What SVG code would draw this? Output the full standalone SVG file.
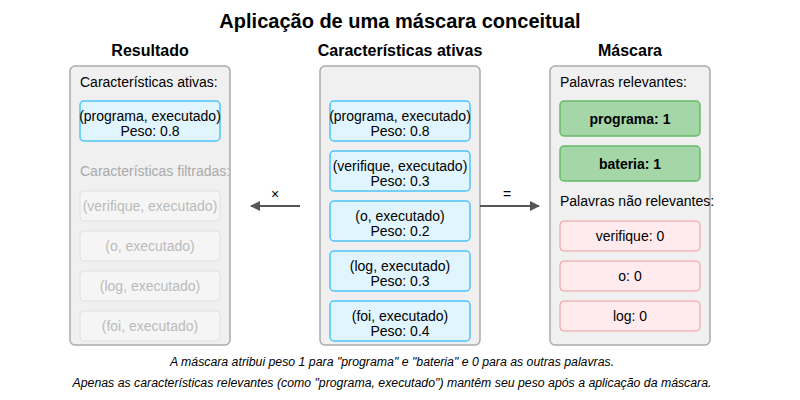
<svg xmlns="http://www.w3.org/2000/svg" width="800" height="400" viewBox="0 0 800 400">
<style>
text{font-family:"Liberation Sans",Arial,sans-serif;}
.title{font-size:20px;font-weight:bold;fill:#000;text-anchor:middle;}
.head{font-size:16px;font-weight:bold;fill:#000;text-anchor:middle;}
.panel{fill:#f0f0f0;stroke:#aaaaaa;stroke-width:1.5;}
.lbl{font-size:14px;fill:#000;}
.lblg{font-size:14px;fill:#aaaaaa;}
.blue{fill:#e1f5fe;stroke:#4fc3f7;stroke-width:1.5;}
.grey{fill:#f5f5f5;stroke:#e0e0e0;stroke-width:1;}
.green{fill:#a5d6a7;stroke:#66bb6a;stroke-width:1.5;}
.pink{fill:#ffebee;stroke:#ef9a9a;stroke-width:1;}
.bt{font-size:14px;fill:#000;text-anchor:middle;}
.gt{font-size:14px;fill:#bbbbbb;text-anchor:middle;}
.bold{font-size:14px;font-weight:bold;fill:#000;text-anchor:middle;}
.op{font-size:14px;fill:#000;text-anchor:middle;}
.foot{font-size:12.3px;font-style:italic;fill:#000;text-anchor:middle;}
.conn{stroke:#555;stroke-width:2;fill:none;}
</style>
<defs>
<marker id="ah" viewBox="0 0 10 10" refX="9" refY="5" markerWidth="5" markerHeight="5" orient="auto"><path d="M0,0 L10,5 L0,10 z" fill="#555"/></marker>
</defs>
<text class="title" x="400" y="28">Aplicação de uma máscara conceitual</text>
<text class="head" x="150" y="56">Resultado</text>
<text class="head" x="400" y="56">Características ativas</text>
<text class="head" x="630" y="56">Máscara</text>

<g id="resultado">
<rect class="panel" x="70" y="66" width="160" height="279" rx="5"/>
<text class="lbl" x="80" y="87">Características ativas:</text>
<g id="res-programa"><rect class="blue" x="80" y="101" width="140" height="40" rx="4"/>
<text class="bt" x="150" y="121">(programa, executado)</text><text class="bt" x="150" y="136">Peso: 0.8</text></g>
<text class="lblg" x="80" y="176">Características filtradas:</text>
<g id="res-verifique"><rect class="grey" x="80" y="191" width="140" height="30" rx="4"/><text class="gt" x="150" y="211">(verifique, executado)</text></g>
<g id="res-o"><rect class="grey" x="80" y="231" width="140" height="30" rx="4"/><text class="gt" x="150" y="251">(o, executado)</text></g>
<g id="res-log"><rect class="grey" x="80" y="271" width="140" height="30" rx="4"/><text class="gt" x="150" y="291">(log, executado)</text></g>
<g id="res-foi"><rect class="grey" x="80" y="311" width="140" height="30" rx="4"/><text class="gt" x="150" y="331">(foi, executado)</text></g>
</g>

<g id="ativas">
<rect class="panel" x="320" y="66" width="160" height="279" rx="5"/>
<g id="at-programa"><rect class="blue" x="330" y="101" width="140" height="40" rx="4"/>
<text class="bt" x="400" y="121">(programa, executado)</text><text class="bt" x="400" y="136">Peso: 0.8</text></g>
<g id="at-verifique"><rect class="blue" x="330" y="151" width="140" height="40" rx="4"/>
<text class="bt" x="400" y="171">(verifique, executado)</text><text class="bt" x="400" y="186">Peso: 0.3</text></g>
<g id="at-o"><rect class="blue" x="330" y="201" width="140" height="40" rx="4"/>
<text class="bt" x="400" y="221">(o, executado)</text><text class="bt" x="400" y="236">Peso: 0.2</text></g>
<g id="at-log"><rect class="blue" x="330" y="251" width="140" height="40" rx="4"/>
<text class="bt" x="400" y="271">(log, executado)</text><text class="bt" x="400" y="286">Peso: 0.3</text></g>
<g id="at-foi"><rect class="blue" x="330" y="301" width="140" height="40" rx="4"/>
<text class="bt" x="400" y="321">(foi, executado)</text><text class="bt" x="400" y="336">Peso: 0.4</text></g>
</g>

<g id="mascara">
<rect class="panel" x="550" y="66" width="160" height="279" rx="5"/>
<text class="lbl" x="560" y="87">Palavras relevantes:</text>
<g id="m-programa"><rect class="green" x="560" y="101" width="140" height="35" rx="4"/><text class="bold" x="630" y="124">programa: 1</text></g>
<g id="m-bateria"><rect class="green" x="560" y="146" width="140" height="35" rx="4"/><text class="bold" x="630" y="169">bateria: 1</text></g>
<text class="lbl" x="560" y="206">Palavras não relevantes:</text>
<g id="m-verifique"><rect class="pink" x="560" y="221" width="140" height="30" rx="4"/><text class="bt" x="630" y="241">verifique: 0</text></g>
<g id="m-o"><rect class="pink" x="560" y="261" width="140" height="30" rx="4"/><text class="bt" x="630" y="281">o: 0</text></g>
<g id="m-log"><rect class="pink" x="560" y="301" width="140" height="30" rx="4"/><text class="bt" x="630" y="321">log: 0</text></g>
</g>

<g id="connectors">
<line class="conn" x1="300" y1="206" x2="251" y2="206" marker-end="url(#ah)"/>
<text class="op" x="275" y="199">×</text>
<line class="conn" x1="480" y1="206" x2="539" y2="206" marker-end="url(#ah)"/>
<text class="op" x="507" y="199">=</text>
</g>

<text class="foot" x="392" y="366">A máscara atribui peso 1 para "programa" e "bateria" e 0 para as outras palavras.</text>
<text class="foot" x="392" y="387">Apenas as características relevantes (como "programa, executado") mantêm seu peso após a aplicação da máscara.</text>
</svg>
